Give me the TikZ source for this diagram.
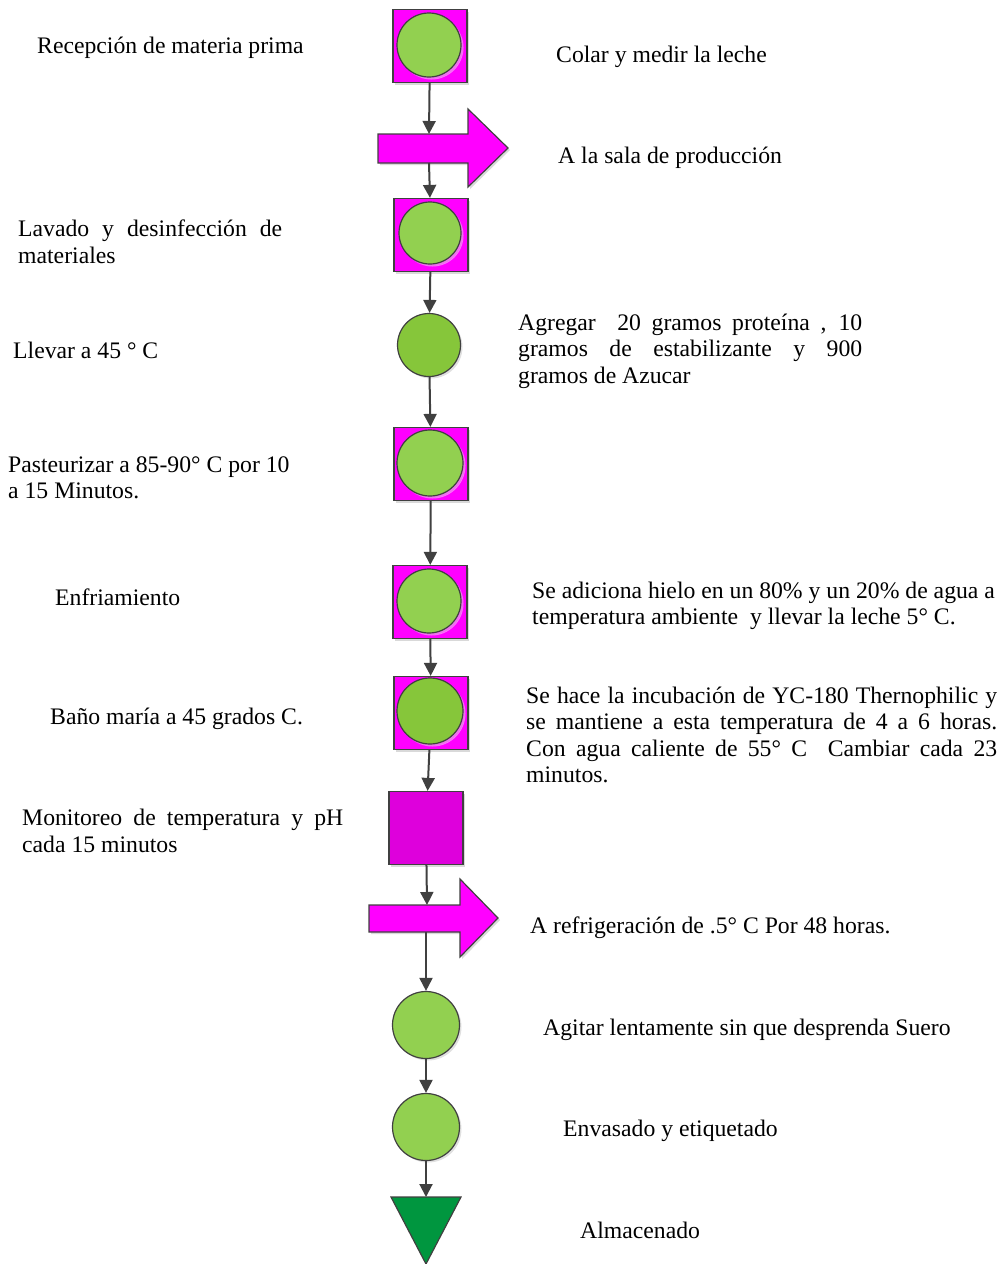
\documentclass[tikz,border=0pt]{standalone}
\usepackage{fontspec}
\setmainfont{Liberation Serif}
\usetikzlibrary{arrows.meta,shadows}
\hyphenpenalty=10000
\exhyphenpenalty=10000
\definecolor{opmag}{HTML}{FF00FF}
\definecolor{inspmag}{HTML}{DE00DC}
\definecolor{ballgreen}{HTML}{92D050}
\definecolor{darkball}{HTML}{86C63A}
\definecolor{storegreen}{HTML}{00963F}
\definecolor{lineg}{HTML}{404040}
\tikzset{
  opsq/.style={draw=lineg, line width=1.2pt, fill=opmag, minimum width=74pt, minimum height=73pt, inner sep=0pt,
    drop shadow={shadow xshift=2pt, shadow yshift=-2pt, fill=black, opacity=0.15}},
  ball/.style={circle, draw=lineg, line width=1.2pt, fill=ballgreen, inner sep=0pt,
    drop shadow={shadow xshift=2pt, shadow yshift=-2pt, fill=black, opacity=0.12}},
  inball/.style={ball, drop shadow={shadow xshift=2.5pt, shadow yshift=-2.5pt, fill=white, opacity=0.45}},
  shipbox/.style={draw=lineg, line width=1.2pt, fill=opmag,
    drop shadow={shadow xshift=2pt, shadow yshift=-2pt, fill=black, opacity=0.15}},
  storebox/.style={draw=lineg, line width=1.2pt, fill=storegreen},
  flow/.style={draw=lineg, line width=2pt, -{Triangle[width=13pt,length=13pt]}},
  lbl/.style={anchor=west, inner sep=0pt, font=\fontsize{23.7}{26.5}\selectfont}
}
\begin{document}
\begin{tikzpicture}[x=1pt,y=-1pt]
\useasboundingbox (0,0) rectangle (1003,1264);
% operaciones
\node[opsq] (op1) at (430,46) {};
\node[inball, minimum size=64pt] (op1c) at (429,45) {};
\node[opsq] (op2) at (431,235) {};
\node[inball, minimum size=62pt] (op2c) at (430,233) {};
\node[ball, fill=darkball, minimum size=63pt] (c3) at (429,345) {};
\node[opsq] (op4) at (431,464) {};
\node[inball, minimum size=66pt] (op4c) at (430,463) {};
\node[opsq] (op5) at (430,602) {};
\node[inball, minimum size=64pt] (op5c) at (429,601) {};
\node[opsq] (op6) at (431,713) {};
\node[inball, fill=darkball, minimum size=66pt] (op6c) at (430,711) {};
\node[opsq, fill=inspmag] (insp) at (426,828) {};
\node[ball, minimum size=67pt] (c9) at (426,1025) {};
\node[ball, minimum size=67pt] (c10) at (426,1127) {};
% transportes y almacen
\draw[shipbox] (378,134) -- (468,134) -- (468,109) -- (508,148) -- (468,187) -- (468,163) -- (378,163) -- cycle;
\coordinate (ship1in) at (429,134);
\coordinate (ship1out) at (429,163);
\draw[shipbox] (369,905) -- (460,905) -- (460,879) -- (498,918) -- (460,957) -- (460,932) -- (369,932) -- cycle;
\coordinate (ship2in) at (427,905);
\coordinate (ship2out) at (426,932);
\draw[storebox] (391,1197) -- (461,1197) -- (426,1264) -- cycle;
\coordinate (store) at (426,1197);
% flechas
\foreach \a/\b in {op1/ship1in, ship1out/op2, op2/c3, c3/op4, op4/op5, op5/op6, op6/insp, insp/ship2in, ship2out/c9, c9/c10, c10/store}
  \draw[flow] (\a) -- (\b);
% textos
\node[lbl] (t1) at (37,48) {Recepción de materia prima};
\node[lbl] (t2) at (556,57) {Colar y medir la leche};
\node[lbl] (t3) at (558,158) {A la sala de producción};
\node[lbl, text width=264pt, align=justify] (t4) at (18,242) {Lavado y desinfección de\linebreak materiales};
\node[lbl] (t5) at (13,350) {Llevar a 45 ° C};
\node[lbl, text width=344pt, align=justify] (t6) at (518,351) {Agregar \ 20 gramos proteína , 10\linebreak gramos de estabilizante y 900\linebreak gramos de Azucar};
\node[lbl, align=left] (t7) at (8,478) {Pasteurizar a 85-90° C por 10\\a 15 Minutos.};
\node[lbl] (t8) at (55,597) {Enfriamiento};
\node[lbl, align=left] (t9) at (532,606) {Se adiciona hielo en un 80\% y un 20\% de agua a\\temperatura ambiente \ y llevar la leche 5° C.};
\node[lbl] (t10) at (50,719) {Baño maría a 45 grados C.};
\node[lbl, text width=471pt, align=justify] (t11) at (526,735) {Se hace la incubación de YC-180 Thernophilic y\linebreak se mantiene a esta temperatura de 4 a 6 horas.\linebreak Con agua caliente de 55° C \ Cambiar cada 23\linebreak minutos.};
\node[lbl, text width=321pt, align=justify] (t12) at (22,831) {Monitoreo de temperatura y pH\linebreak cada 15 minutos};
\node[lbl] (t13) at (530,928) {A refrigeración de .5° C Por 48 horas.};
\node[lbl] (t14) at (543,1030) {Agitar lentamente sin que desprenda Suero};
\node[lbl] (t15) at (563,1131) {Envasado y etiquetado};
\node[lbl] (t16) at (580,1230) {Almacenado};
\end{tikzpicture}
\end{document}
